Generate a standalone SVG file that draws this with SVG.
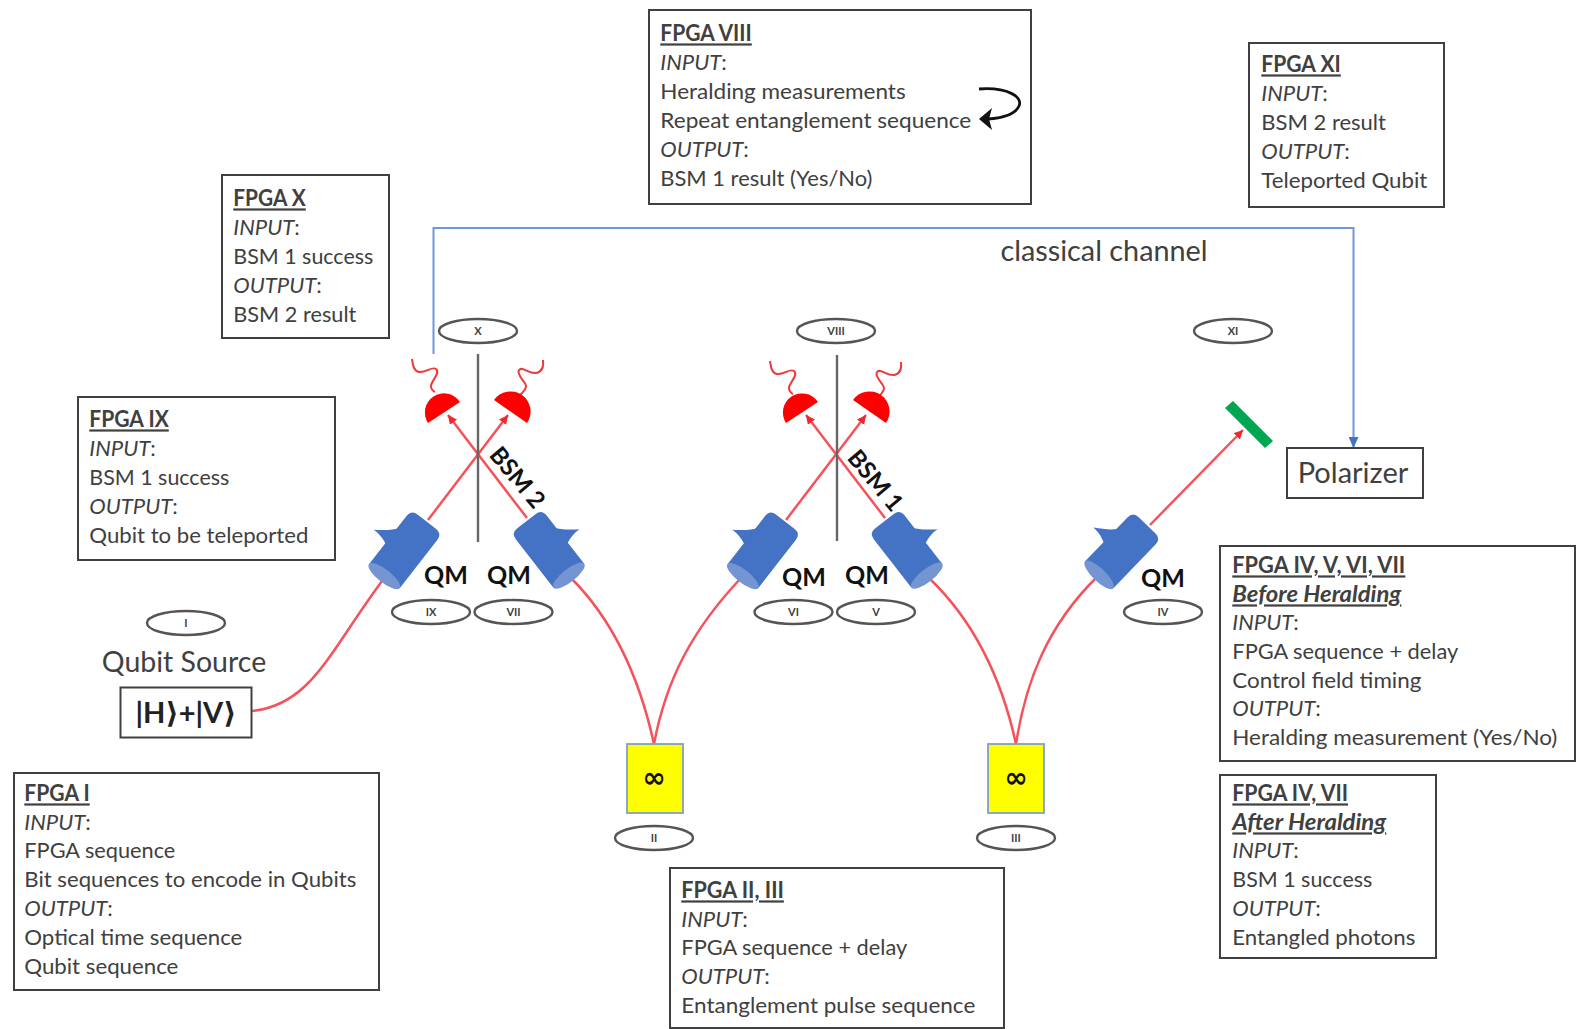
<svg xmlns="http://www.w3.org/2000/svg" xmlns:xlink="http://www.w3.org/1999/xlink" width="1577" height="1029" viewBox="0 0 1577 1029">
<style>
text{font-family:"Lato","Liberation Sans","DejaVu Sans",sans-serif;fill:#404040}
.box{fill:#fff;stroke:#404040;stroke-width:2}
.t{font-size:22px;transform:translate(-.7px,.4px)}
.i{font-style:italic}
.n{font-style:normal}
.h{font-weight:bold;text-decoration:underline}
.el{fill:#fff;stroke:#555;stroke-width:2.400}
.e{font-size:11px;font-weight:bold;text-anchor:middle}
.qm{font-size:25px;font-weight:bold;fill:#111;text-anchor:middle}
.r{fill:none;stroke:#f5525a;stroke-width:2.500}
.det{fill:#f00}
.sq{fill:none;stroke:#ee3a3a;stroke-width:2}
.bl{fill:none;stroke:#6f97dc;stroke-width:2}
.gr{stroke:#666;stroke-width:2.400}
.src{fill:#ff0;stroke:#7f9fc8;stroke-width:1.800}
</style>
<defs>
<g id="qmb">
<path d="M50,-18C44,-22 40,-27 33,-37C33.500,-30 32,-25 29,-18Z" fill="#4472c4"/>
<path d="M3,-19.500L64,-19.500Q72,-19.500 72,-11.500L72,11.500Q72,19.500 64,19.500L3,19.500Z" fill="#4472c4"/>
<ellipse cx="3" cy="0" rx="6.500" ry="19.500" fill="#7594d2"/>
</g>
<marker id="ra" markerWidth="10" markerHeight="10" refX="9" refY="4.500" orient="auto" markerUnits="userSpaceOnUse"><path d="M0,0L9,4.500L0,9Z" fill="#f4272f"/></marker>
<marker id="ba" markerWidth="12" markerHeight="10" refX="11" refY="5" orient="auto" markerUnits="userSpaceOnUse"><path d="M0,0L11,5L0,10Z" fill="#4472c4"/></marker>
</defs>
<rect width="1577" height="1029" fill="#fff"/>

<g id="connectors">
<path class="bl" d="M433.500,354V228H1353.500V448" marker-end="url(#ba)"/>
<path class="r" d="M252,711C312,705 330,650 385,577"/>
<path class="r" d="M654,744C640,680 615,622 571,578"/>
<path class="r" d="M654,744C666,680 692,630 741,578"/>
<path class="r" d="M1016,744C1002,680 975,622 929,578"/>
<path class="r" d="M1016,744C1026,680 1048,625 1097,577"/>
<path class="r" d="M428,520L508,415" marker-end="url(#ra)"/>
<path class="r" d="M527,518L448,415" marker-end="url(#ra)"/>
<path class="r" d="M786,520L866,415" marker-end="url(#ra)"/>
<path class="r" d="M885,518L806,415" marker-end="url(#ra)"/>
<path class="r" d="M1150,525L1243,430" marker-end="url(#ra)"/>
<path class="gr" d="M478,354V542M837,355V541"/>
<path class="sq" d="M412,359C413,366 414,371 419,372C426,373 432,366 436,369C441,373 431,381 431,386C431,389 433,391 435,392"/>
<path class="sq" d="M543,360C544,368 541,372 536,373C529,374 522,366 519,370C516,375 526,382 526,386C526,390 522,393 520,395"/>
<path class="sq" d="M770,361C771,368 772,373 777,374C784,375 790,368 794,371C799,375 789,383 789,388C789,391 791,393 793,394"/>
<path class="sq" d="M901,362C902,370 899,374 894,375C887,376 880,368 877,372C874,377 884,384 884,388C884,392 880,395 878,397"/>
</g>

<g id="qm-ix"><use xlink:href="#qmb" transform="translate(382.500,578.500) rotate(-52)"/><text class="qm" x="446" y="584">QM</text><ellipse class="el" cx="431" cy="612" rx="39" ry="12"/><text class="e" x="431" y="616">IX</text></g>
<g id="qm-vii"><use xlink:href="#qmb" transform="translate(570.700,578) scale(-1,1) rotate(-52)"/><text class="qm" x="509" y="584">QM</text><ellipse class="el" cx="513.500" cy="612" rx="39" ry="12"/><text class="e" x="513.500" y="616">VII</text></g>
<g id="qm-vi"><use xlink:href="#qmb" transform="translate(741,578.500) rotate(-52)"/><text class="qm" x="804" y="586">QM</text><ellipse class="el" cx="793.500" cy="612" rx="39" ry="12"/><text class="e" x="793.500" y="616">VI</text></g>
<g id="qm-v"><use xlink:href="#qmb" transform="translate(928.700,578) scale(-1,1) rotate(-52)"/><text class="qm" x="867" y="584">QM</text><ellipse class="el" cx="876" cy="612" rx="39" ry="12"/><text class="e" x="876" y="616">V</text></g>
<g id="qm-iv"><use xlink:href="#qmb" transform="translate(1097,577) rotate(-46)"/><text class="qm" x="1163" y="587">QM</text><ellipse class="el" cx="1163" cy="612" rx="39" ry="12"/><text class="e" x="1163" y="616">IV</text></g>

<g id="bsm2">
<path class="det" d="M428,423A19,19 0 0 1 460,402Z"/><path class="det" d="M494,400A19,19 0 0 1 527,423Z"/>
<text x="518" y="486" font-size="24" font-weight="bold" text-anchor="middle" style="fill:#111" transform="rotate(50 518 477)">BSM 2</text>
<ellipse class="el" cx="478" cy="331" rx="39" ry="12"/><text class="e" x="478" y="335">X</text>
</g>
<g id="bsm1">
<path class="det" d="M786,423A19,19 0 0 1 818,402Z"/><path class="det" d="M853,400A19,19 0 0 1 886,423Z"/>
<text x="876" y="489" font-size="24" font-weight="bold" text-anchor="middle" style="fill:#111" transform="rotate(50 876 480)">BSM 1</text>
<ellipse class="el" cx="836" cy="331" rx="39" ry="12"/><text class="e" x="836" y="335">VIII</text>
</g>
<g id="xi"><ellipse class="el" cx="1233" cy="331" rx="39" ry="12"/><text class="e" x="1233" y="335">XI</text></g>
<g id="mirror"><path d="M1225,408L1233,401L1273,441L1265,448Z" fill="#00a651"/></g>
<g id="polarizer"><rect class="box" x="1287" y="448" width="136" height="50"/><text x="1353" y="483" font-size="29" text-anchor="middle">Polarizer</text></g>
<g id="channel-label"><text x="1104" y="261" font-size="28.800" text-anchor="middle">classical channel</text></g>

<g id="qubit-source">
<ellipse class="el" cx="186" cy="623" rx="39" ry="12"/><text class="e" x="186" y="627">I</text>
<text x="184" y="672" font-size="28.500" text-anchor="middle">Qubit Source</text>
<rect class="box" x="120.500" y="687.500" width="131" height="50"/>
<text x="186" y="723" font-size="29" font-weight="bold" text-anchor="middle" style="fill:#222">|H⟩+|V⟩</text>
</g>
<g id="source-ii"><rect class="src" x="627" y="744" width="56" height="69"/><text x="654" y="787" font-size="28" font-weight="bold" text-anchor="middle" style="font-family:'DejaVu Sans',sans-serif;fill:#111">∞</text><ellipse class="el" cx="654" cy="838" rx="39" ry="12"/><text class="e" x="654" y="842">II</text></g>
<g id="source-iii"><rect class="src" x="988" y="744" width="56" height="69"/><text x="1016" y="787" font-size="28" font-weight="bold" text-anchor="middle" style="font-family:'DejaVu Sans',sans-serif;fill:#111">∞</text><ellipse class="el" cx="1016" cy="838" rx="39" ry="12"/><text class="e" x="1016" y="842">III</text></g>

<g id="fpga-viii"><rect class="box" x="649" y="10" width="382" height="194"/>
<g class="t"><text class="h" x="661" y="41" textLength="91.500" lengthAdjust="spacingAndGlyphs">FPGA VIII</text><text class="i" x="661" y="70">INPUT<tspan class="n">:</tspan></text><text x="661" y="99" textLength="245.400" lengthAdjust="spacingAndGlyphs">Heralding measurements</text><text x="661" y="128" textLength="311" lengthAdjust="spacingAndGlyphs">Repeat entanglement sequence</text><text class="i" x="661" y="157">OUTPUT<tspan class="n">:</tspan></text><text x="661" y="186" textLength="212" lengthAdjust="spacingAndGlyphs">BSM 1 result (Yes/No)</text></g>
<path d="M979,89C1008,87 1023,97 1019,106C1015,115 1002,118 988,119" fill="none" stroke="#111" stroke-width="2.800"/><path d="M979,119L992,108L989,119L992,130Z" fill="#111"/>
</g>
<g id="fpga-xi"><rect class="box" x="1249" y="43" width="195" height="164"/>
<g class="t"><text class="h" x="1262" y="72" textLength="79.500" lengthAdjust="spacingAndGlyphs">FPGA XI</text><text class="i" x="1262" y="101">INPUT<tspan class="n">:</tspan></text><text x="1262" y="130">BSM 2 result</text><text class="i" x="1262" y="159">OUTPUT<tspan class="n">:</tspan></text><text x="1262" y="188" textLength="166" lengthAdjust="spacingAndGlyphs">Teleported Qubit</text></g></g>
<g id="fpga-x"><rect class="box" x="222" y="175" width="167" height="163"/>
<g class="t"><text class="h" x="234" y="206" textLength="72.500" lengthAdjust="spacingAndGlyphs">FPGA X</text><text class="i" x="234" y="235">INPUT<tspan class="n">:</tspan></text><text x="234" y="264" textLength="140" lengthAdjust="spacingAndGlyphs">BSM 1 success</text><text class="i" x="234" y="293">OUTPUT<tspan class="n">:</tspan></text><text x="234" y="322" textLength="123" lengthAdjust="spacingAndGlyphs">BSM 2 result</text></g></g>
<g id="fpga-ix"><rect class="box" x="78" y="397" width="257" height="163"/>
<g class="t"><text class="h" x="90" y="427" textLength="79.500" lengthAdjust="spacingAndGlyphs">FPGA IX</text><text class="i" x="90" y="456">INPUT<tspan class="n">:</tspan></text><text x="90" y="485" textLength="140" lengthAdjust="spacingAndGlyphs">BSM 1 success</text><text class="i" x="90" y="514">OUTPUT<tspan class="n">:</tspan></text><text x="90" y="543" textLength="219" lengthAdjust="spacingAndGlyphs">Qubit to be teleported</text></g></g>
<g id="fpga-i"><rect class="box" x="14" y="773" width="365" height="217"/>
<g class="t"><text class="h" x="25" y="801" textLength="65.400" lengthAdjust="spacingAndGlyphs">FPGA I</text><text class="i" x="25" y="830">INPUT<tspan class="n">:</tspan></text><text x="25" y="858" textLength="151" lengthAdjust="spacingAndGlyphs">FPGA sequence</text><text x="25" y="887" textLength="332" lengthAdjust="spacingAndGlyphs">Bit sequences to encode in Qubits</text><text class="i" x="25" y="916">OUTPUT<tspan class="n">:</tspan></text><text x="25" y="945" textLength="218" lengthAdjust="spacingAndGlyphs">Optical time sequence</text><text x="25" y="974" textLength="154" lengthAdjust="spacingAndGlyphs">Qubit sequence</text></g></g>
<g id="fpga-ii-iii"><rect class="box" x="670" y="868" width="334" height="160"/>
<g class="t"><text class="h" x="682" y="898" textLength="102.600" lengthAdjust="spacingAndGlyphs">FPGA II, III</text><text class="i" x="682" y="927">INPUT<tspan class="n">:</tspan></text><text x="682" y="955" textLength="226" lengthAdjust="spacingAndGlyphs">FPGA sequence + delay</text><text class="i" x="682" y="984">OUTPUT<tspan class="n">:</tspan></text><text x="682" y="1013" textLength="294" lengthAdjust="spacingAndGlyphs">Entanglement pulse sequence</text></g></g>
<g id="fpga-before"><rect class="box" x="1220" y="546" width="355" height="215"/>
<g class="t"><text class="h" x="1233" y="573" textLength="173" lengthAdjust="spacingAndGlyphs">FPGA IV, V, VI, VII</text><text class="h i" x="1233" y="602" textLength="169" lengthAdjust="spacingAndGlyphs">Before Heralding</text><text class="i" x="1233" y="630">INPUT<tspan class="n">:</tspan></text><text x="1233" y="659" textLength="226" lengthAdjust="spacingAndGlyphs">FPGA sequence + delay</text><text x="1233" y="688" textLength="189" lengthAdjust="spacingAndGlyphs">Control field timing</text><text class="i" x="1233" y="716">OUTPUT<tspan class="n">:</tspan></text><text x="1233" y="745" textLength="325" lengthAdjust="spacingAndGlyphs">Heralding measurement (Yes/No)</text></g></g>
<g id="fpga-after"><rect class="box" x="1220" y="775" width="216" height="183"/>
<g class="t"><text class="h" x="1233" y="801" textLength="115.700" lengthAdjust="spacingAndGlyphs">FPGA IV, VII</text><text class="h i" x="1233" y="830" textLength="154" lengthAdjust="spacingAndGlyphs">After Heralding</text><text class="i" x="1233" y="858">INPUT<tspan class="n">:</tspan></text><text x="1233" y="887" textLength="140" lengthAdjust="spacingAndGlyphs">BSM 1 success</text><text class="i" x="1233" y="916">OUTPUT<tspan class="n">:</tspan></text><text x="1233" y="945" textLength="183" lengthAdjust="spacingAndGlyphs">Entangled photons</text></g></g>
</svg>
